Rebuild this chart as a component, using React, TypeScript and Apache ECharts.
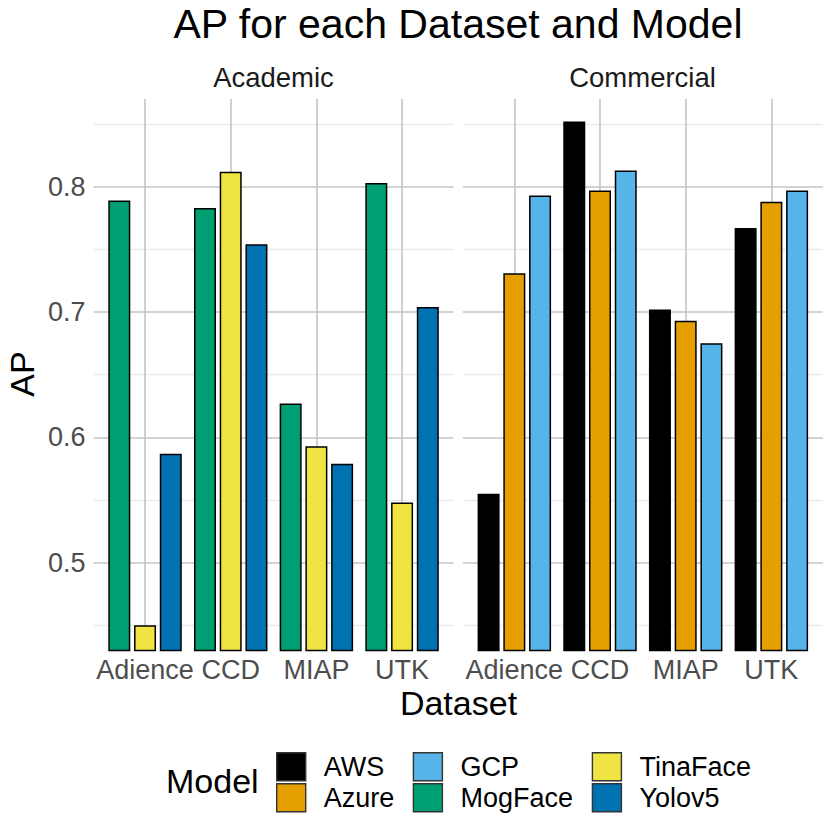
import React, { useEffect, useRef } from "react";
import * as echarts from "echarts";

const datasets = ["Adience", "CCD", "MIAP", "UTK"];
const mogFace = [0.789, 0.783, 0.627, 0.803];
const tinaFace = [0.45, 0.812, 0.593, 0.548];
const yolov5 = [0.587, 0.754, 0.579, 0.704];
const aws = [0.555, 0.852, 0.702, 0.767];
const azure = [0.731, 0.797, 0.693, 0.788];
const gcp = [0.793, 0.813, 0.675, 0.797];
const majorTicks = [0.5, 0.6, 0.7, 0.8];
const minorTicks = [0.45, 0.55, 0.65, 0.75, 0.85];
const yMin = 0.43;
const yMax = 0.87;

const FONT = "Liberation Sans, Arial, Helvetica, sans-serif";
const colors: Record<string, string> = {
  AWS: "#000000",
  Azure: "#E69F00",
  GCP: "#56B4E9",
  MogFace: "#009E73",
  TinaFace: "#F0E442",
  Yolov5: "#0072B2",
};

// background "position" slots (0.4..4.6 step 0.1) used only to place vertical grid lines at category centres
const slots = Array.from({ length: 43 }, (_, i) => String(i));

export default function App() {
  const ref = useRef<HTMLDivElement>(null);
  useEffect(() => {
    if (!ref.current) return;
    const chart = echarts.init(ref.current, undefined, { renderer: "svg" });

    const top = 99;
    const height = 551.4;
    const bgW = 359.8;
    const barW = 342.7;
    const panels = [
      { bgLeft: 93.6, barLeft: 102.2 },
      { bgLeft: 463.0, barLeft: 471.5 },
    ];

    const grid: any[] = [];
    const xAxis: any[] = [];
    const yAxis: any[] = [];
    panels.forEach((p, pi) => {
      grid.push({ left: p.bgLeft, top, width: bgW, height, containLabel: false });
      grid.push({ left: p.barLeft, top, width: barW, height, containLabel: false });
      const gBg = pi * 2;
      const gBar = pi * 2 + 1;
      xAxis.push({
        type: "category",
        gridIndex: gBg,
        data: slots,
        boundaryGap: false,
        axisLine: { show: false },
        axisTick: { show: false },
        axisLabel: { show: false },
        splitLine: {
          show: true,
          interval: (idx: number) => idx % 10 === 6,
          lineStyle: { color: "#c4c4c4", width: 1.6 },
        },
      });
      xAxis.push({
        type: "category",
        gridIndex: gBar,
        data: datasets,
        axisLine: { show: false },
        axisTick: { show: false },
        splitLine: { show: false },
        axisLabel: {
          interval: 0,
          fontSize: 27,
          fontFamily: FONT,
          color: "#4d4d4d",
          margin: 6,
        },
      });
      yAxis.push({
        type: "value",
        gridIndex: gBg,
        min: yMin,
        max: yMax,
        axisLine: { show: false },
        axisTick: { show: false, customValues: majorTicks },
        axisLabel: {
          show: pi === 0,
          customValues: majorTicks,
          fontSize: 27,
          fontFamily: FONT,
          color: "#4d4d4d",
          margin: 8,
          formatter: (v: number) => v.toFixed(1),
        },
        splitLine: { show: true, lineStyle: { color: "#c4c4c4", width: 1.6 } },
      });
      yAxis.push({
        type: "value",
        gridIndex: gBg,
        min: yMin,
        max: yMax,
        position: "left",
        axisLine: { show: false },
        axisTick: { show: false, customValues: minorTicks },
        axisLabel: { show: false, customValues: minorTicks },
        splitLine: { show: true, lineStyle: { color: "#ebebeb", width: 1.4 } },
      });
      yAxis.push({
        type: "value",
        gridIndex: gBar,
        min: yMin,
        max: yMax,
        show: false,
        splitLine: { show: false },
      });
    });

    const mk = (name: string, data: number[], panel: number) => ({
      type: "bar",
      name,
      data,
      xAxisIndex: panel * 2 + 1,
      yAxisIndex: panel * 3 + 2,
      barWidth: 22,
      barGap: "17%",
      clip: true,
      itemStyle: { color: colors[name], borderColor: "#000", borderWidth: 1.5 },
      emphasis: { disabled: true },
    });

    const series = [
      mk("MogFace", mogFace, 0),
      mk("TinaFace", tinaFace, 0),
      mk("Yolov5", yolov5, 0),
      mk("AWS", aws, 1),
      mk("Azure", azure, 1),
      mk("GCP", gcp, 1),
    ];

    const legendCols = [
      { left: 276, names: ["AWS", "Azure"] },
      { left: 412.7, names: ["GCP", "MogFace"] },
      { left: 591.7, names: ["TinaFace", "Yolov5"] },
    ];
    const legend = legendCols.map((c) => ({
      orient: "vertical",
      left: c.left,
      top: 752,
      padding: 0,
      itemWidth: 29,
      itemHeight: 28,
      itemGap: 1.7,
      selectedMode: false,
      icon: "rect",
      data: c.names,
      itemStyle: { borderColor: "#333", borderWidth: 1.4 },
      textStyle: {
        fontSize: 27,
        fontFamily: FONT,
        color: "#000",
        lineHeight: 28,
        padding: [0, 0, 0, 13],
      },
    }));

    const txt = (text: string, x: number, y: number, fontSize: number, fill = "#000", extra: any = {}) => ({
      type: "text",
      x,
      y,
      ...extra,
      style: {
        text,
        fontSize,
        fontFamily: FONT,
        fill,
        align: extra.align || "center",
        verticalAlign: "middle",
      },
    });

    chart.setOption({
      animation: false,
      grid,
      xAxis,
      yAxis,
      series,
      legend,
      graphic: [
        txt("AP for each Dataset and Model", 458, 23.5, 41),
        txt("Academic", 273.5, 77, 27.5, "#1a1a1a"),
        txt("Commercial", 642.5, 77, 27.5, "#1a1a1a"),
        txt("Dataset", 458.5, 702.5, 34),
        txt("AP", 22, 374, 34, "#000", { rotation: Math.PI / 2 }),
        { type: "text", x: 166, y: 781, style: { text: "Model", fontSize: 34, fontFamily: FONT, fill: "#000", align: "left", verticalAlign: "middle" } },
      ],
    });

    return () => chart.dispose();
  }, []);

  return (
    <div
      ref={ref}
      style={{ position: "fixed", left: 0, top: 0, width: 830, height: 830, background: "#fff" }}
    />
  );
}
